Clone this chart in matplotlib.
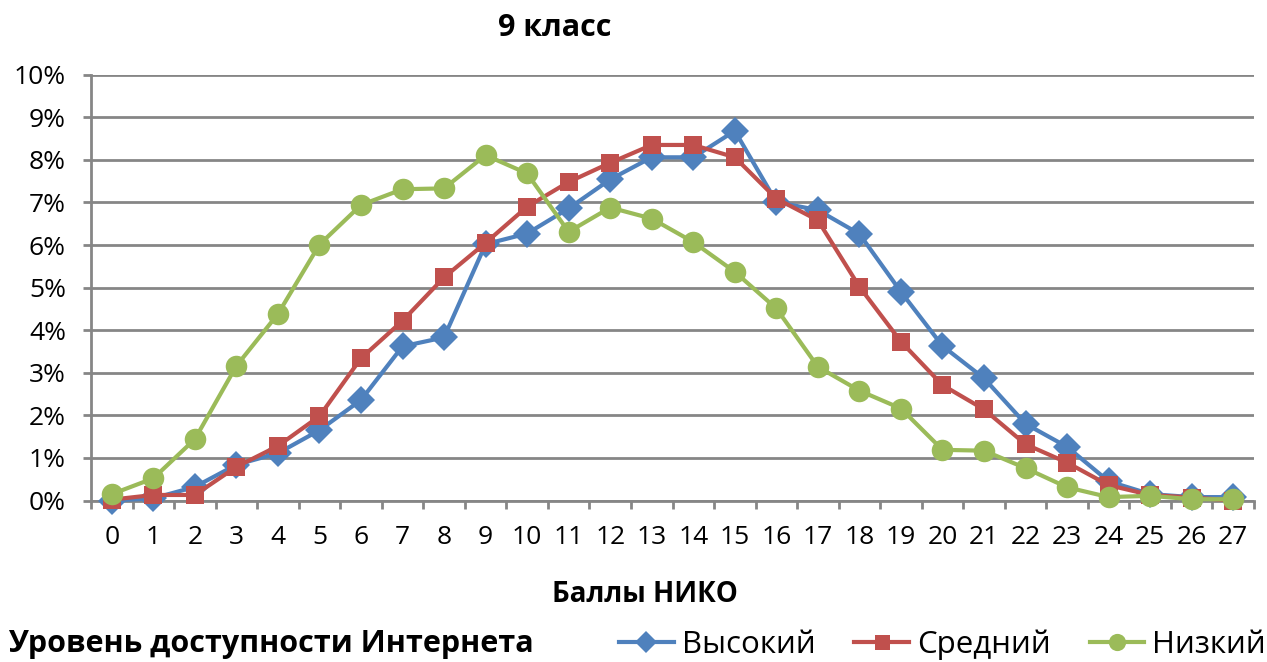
import matplotlib
matplotlib.use("Agg")
import matplotlib.pyplot as plt
import numpy as np

plt.rcParams['font.family'] = ['Open Sans', 'DejaVu Sans']

# Data (shares of students, %)
scores = list(range(28))
high = [0.0, 0.05, 0.32, 0.84, 1.11, 1.65, 2.36, 3.62, 3.83, 6.02, 6.27, 6.86, 7.54, 8.06,
        8.06, 8.68, 7.01, 6.82, 6.26, 4.90, 3.63, 2.87, 1.80, 1.26, 0.45, 0.15, 0.08, 0.08]
medium = [0.02, 0.13, 0.13, 0.79, 1.28, 1.98, 3.34, 4.22, 5.24, 6.05, 6.90, 7.48, 7.93, 8.35,
          8.35, 8.06, 7.09, 6.58, 5.02, 3.73, 2.71, 2.14, 1.32, 0.89, 0.36, 0.13, 0.07, 0.0]
low = [0.15, 0.52, 1.44, 3.16, 4.38, 6.01, 6.94, 7.31, 7.33, 8.11, 7.68, 6.31, 6.88, 6.62,
       6.07, 5.37, 4.51, 3.14, 2.58, 2.16, 1.19, 1.17, 0.76, 0.31, 0.08, 0.11, 0.03, 0.03]
series_names = ["Высокий", "Средний", "Низкий"]
colors = ["#4F81BD", "#C0504D", "#9BBB59"]
markers = ["D", "s", "o"]
msizes = [14, 13.5, 15.5]

fig = plt.figure(figsize=(12.67, 6.62), dpi=100)
ax = fig.add_axes([91 / 1267, 1 - 500.5 / 662, (1254 - 91) / 1267, (500.5 - 74.7) / 662])

handles = []
for i, vals in enumerate([high, medium, low]):
    h, = ax.plot(scores, vals, color=colors[i], marker=markers[i], markersize=msizes[i],
                 linewidth=3, markeredgewidth=0, zorder=3 + i, label=series_names[i],
                 clip_on=False)
    handles.append(h)

ax.set_xlim(-0.5, 27.5)
ax.set_ylim(0, 10)
ax.set_yticks(range(0, 11))
ax.set_yticklabels([f"{v}%" for v in range(0, 11)])
ax.set_xticks(scores)
ax.set_xticklabels([str(s) for s in scores])
ax.set_xticks(np.arange(-0.5, 28, 1), minor=True)
ax.tick_params(axis='x', which='major', length=0, pad=18, labelsize=19)
ax.tick_params(axis='x', which='minor', length=6, width=2, color="#868686")
ax.tick_params(axis='y', length=6, width=2, color="#868686", pad=12, labelsize=19)

ax.grid(axis='y', color="#868686", linewidth=2)
ax.set_axisbelow(True)
for s in ['top', 'right']:
    ax.spines[s].set_visible(False)
for s in ['left', 'bottom']:
    ax.spines[s].set_color("#868686")
    ax.spines[s].set_linewidth(2)

fig.text(555 / 1267, 1 - 28 / 662, "9 класс", ha='center', va='center',
         fontsize=22, fontweight='bold')
fig.text(645 / 1267, 1 - 594 / 662, "Баллы НИКО", ha='center', va='center',
         fontsize=20, fontweight='bold')
fig.text(8 / 1267, 1 - 644 / 662, "Уровень доступности Интернета", ha='left', va='center',
         fontsize=22, fontweight='bold')

fig.legend(handles=handles, loc='center right', bbox_to_anchor=(1266 / 1267, 1 - 645 / 662),
           ncol=3, frameon=False, fontsize=22.5, handlelength=1.75, columnspacing=1.25,
           handletextpad=0.25, markerscale=0.8, borderpad=0, borderaxespad=0)

fig.savefig("out.png", dpi=100)
